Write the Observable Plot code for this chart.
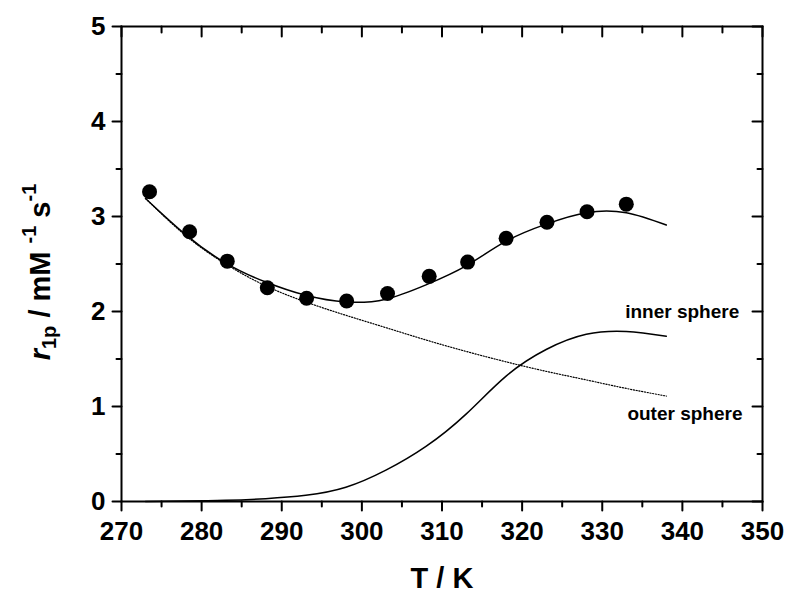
<!DOCTYPE html>
<html><head><meta charset="utf-8">
<script src="https://cdn.jsdelivr.net/npm/d3@7"></script>
<script src="https://cdn.jsdelivr.net/npm/@observablehq/plot@0.6"></script>
<style>html,body{margin:0;padding:0;background:#fff;}</style>
</head><body><div id="chart"></div>
<script>
// Measured relaxivity points
const pointT = [273.5, 278.5, 283.2, 288.2, 293.1, 298.1, 303.2, 308.4, 313.2, 318.0, 323.1, 328.1, 333.0];
const pointR = [3.26, 2.84, 2.53, 2.25, 2.14, 2.11, 2.19, 2.37, 2.52, 2.77, 2.94, 3.05, 3.13];

// Fitted curves
const curveT      = [273, 278, 283, 288, 293, 298, 303, 308, 313, 318, 323, 328, 333, 338];
const totalFit    = [3.19, 2.81, 2.51, 2.31, 2.17, 2.10, 2.13, 2.28, 2.48, 2.74, 2.92, 3.04, 3.04, 2.91];
const outerSphere = [3.19, 2.80, 2.50, 2.27, 2.10, 1.96, 1.83, 1.70, 1.58, 1.47, 1.37, 1.28, 1.19, 1.11];
const innerSphere = [0.0, 0.004, 0.012, 0.03, 0.065, 0.15, 0.33, 0.58, 0.92, 1.32, 1.60, 1.76, 1.79, 1.74];

// Ticks
const xMajorTicks = [270, 280, 290, 300, 310, 320, 330, 340, 350];
const xMinorTicks = [275, 285, 295, 305, 315, 325, 335, 345];
const yMajorTicks = [0, 1, 2, 3, 4, 5];
const yMinorTicks = [0.5, 1.5, 2.5, 3.5, 4.5];

// Curve annotations
const labelText = ["inner sphere", "outer sphere"];
const labelT = [347.1, 347.5];
const labelR = [2.0, 0.92];

const points = pointT.map((t, i) => ({T: t, r: pointR[i]}));
const curves = curveT.map((t, i) => ({T: t, total: totalFit[i], outer: outerSphere[i], inner: innerSphere[i]}));
const labels = labelText.map((s, i) => ({label: s, T: labelT[i], r: labelR[i]}));

const FONT = "'Liberation Sans', Arial, Helvetica, sans-serif";
const tickShape = {draw(ctx, l) { ctx.moveTo(0, 0); ctx.lineTo(0, -l); }};
const tk = (rotate, length) => ({shape: tickShape, anchor: "start", rotate, length, stroke: "black", strokeWidth: 2});

const chart = Plot.plot({
  width: 790, height: 594,
  marginLeft: 121, marginRight: 28, marginTop: 26, marginBottom: 93,
  x: {domain: [270, 350]},
  y: {domain: [0, 5]},
  style: {fontFamily: FONT, fontWeight: "bold", color: "black", background: "white", overflow: "visible"},
  marks: [
    Plot.line(curves, {x: "T", y: "outer", stroke: "black", strokeWidth: 1.2, strokeDasharray: "1.2,1.6", curve: "natural"}),
    Plot.line(curves, {x: "T", y: "inner", stroke: "black", strokeWidth: 1.5, curve: "natural"}),
    Plot.line(curves, {x: "T", y: "total", stroke: "black", strokeWidth: 1.5, curve: "natural"}),
    Plot.dot(points, {x: "T", y: "r", r: 7.5, fill: "black", stroke: null}),
    Plot.frame({stroke: "black", strokeWidth: 2}),
    // bottom ticks (outward)
    Plot.vector(xMajorTicks, {x: d => d, y: 0, ...tk(180, 9)}),
    Plot.vector(xMinorTicks, {x: d => d, y: 0, ...tk(180, 5)}),
    // top ticks (inward)
    Plot.vector(xMajorTicks, {x: d => d, y: 5, ...tk(180, 10)}),
    Plot.vector(xMinorTicks, {x: d => d, y: 5, ...tk(180, 6)}),
    // left ticks (outward)
    Plot.vector(yMajorTicks, {x: 270, y: d => d, ...tk(270, 9)}),
    Plot.vector(yMinorTicks, {x: 270, y: d => d, ...tk(270, 5)}),
    // right ticks (inward)
    Plot.vector(yMajorTicks, {x: 350, y: d => d, ...tk(270, 10)}),
    Plot.vector(yMinorTicks, {x: 350, y: d => d, ...tk(270, 5)}),
    Plot.axisX({ticks: xMajorTicks, tickSize: 0, tickPadding: 20, fontSize: 26, fontWeight: "bold", label: null, tickFormat: d => String(d)}),
    Plot.axisY({ticks: yMajorTicks, tickSize: 0, tickPadding: 16, fontSize: 26, fontWeight: "bold", label: null, tickFormat: d => String(d)}),
    Plot.axisX({ticks: [], label: "T / K", labelAnchor: "center", labelArrow: "none", labelOffset: 86, fontSize: 29, fontWeight: "bold", tickSize: 0}),
    Plot.text(labels, {x: "T", y: "r", text: "label", textAnchor: "end", fontSize: 19, fontWeight: "bold", fill: "black"})
  ]
});
document.getElementById("chart").appendChild(chart);

// y-axis title with sub/superscripts
const svg = d3.select(chart);
const yt = svg.append("text")
  .attr("transform", "translate(50,272) rotate(-90)")
  .attr("text-anchor", "middle")
  .attr("fill", "black")
  .style("font-family", FONT).style("font-weight", "bold").style("font-size", "29px");
yt.append("tspan").style("font-style", "italic").text("r");
yt.append("tspan").attr("dy", 6).style("font-size", "20px").text("1p");
yt.append("tspan").attr("dy", -6).text(" / mM ");
yt.append("tspan").attr("dy", -14).style("font-size", "20px").text("-1");
yt.append("tspan").attr("dy", 14).text(" s");
yt.append("tspan").attr("dy", -14).style("font-size", "20px").text("-1");
</script>
</body></html>
